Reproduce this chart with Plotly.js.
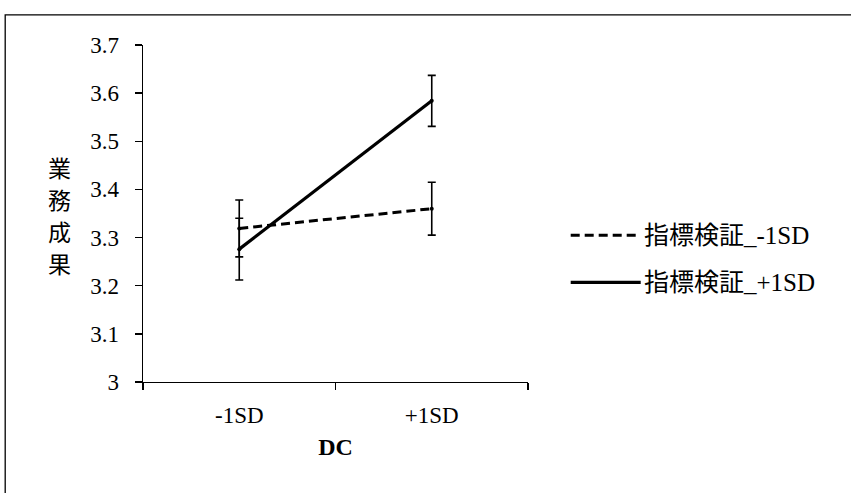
<!DOCTYPE html>
<html>
<head>
<meta charset="utf-8">
<script src="https://cdn.plot.ly/plotly-3.0.1.min.js"></script>
<style>html,body{margin:0;padding:0;background:#fff;}#chart{width:851px;height:493px;}</style>
</head>
<body>
<div id="chart"></div>
<script>
// Data
const categories = ["-1SD", "+1SD"];
const seriesNames = ["指標検証_-1SD", "指標検証_+1SD"];
const valuesLow = [3.319, 3.360];
const errorsLow = [0.059, 0.055];
const valuesHigh = [3.276, 3.584];
const errorsHigh = [0.064, 0.053];
const yTickVals = [3, 3.1, 3.2, 3.3, 3.4, 3.5, 3.6, 3.7];
const yTickText = ["3", "3.1", "3.2", "3.3", "3.4", "3.5", "3.6", "3.7"];
const yTitle = "業務成果";
const xTitle = "DC";

const W = 851, H = 493;
const plotL = 143.3, plotR = 528.3, plotT = 44.7, plotB = 381.7;
const px = x => (x - plotL) / (plotR - plotL);
const py = y => (plotB - y) / (plotB - plotT);

const serif = "Liberation Serif, 'Times New Roman', 'Noto Sans CJK JP', serif";

const traces = [
  {
    x: categories, y: valuesLow, name: seriesNames[0], type: "scatter", mode: "lines+markers",
    line: {color: "#000", width: 3, dash: "9px,5px"},
    marker: {size: 4, color: "#000"},
    error_y: {type: "data", array: errorsLow, visible: true, color: "#000", thickness: 1.6, width: 4},
    showlegend: false
  },
  {
    x: categories, y: valuesHigh, name: seriesNames[1], type: "scatter", mode: "lines+markers",
    line: {color: "#000", width: 3.2},
    marker: {size: 4, color: "#000"},
    error_y: {type: "data", array: errorsHigh, visible: true, color: "#000", thickness: 1.6, width: 4},
    showlegend: false
  }
];

const legendY = [235, 282];
const shapes = [
  {type: "rect", xref: "paper", yref: "paper", x0: px(5.5), x1: px(870), y0: py(14.5), y1: py(510),
   line: {color: "#000", width: 1.3}, fillcolor: "rgba(0,0,0,0)", layer: "below"},
  {type: "line", xref: "paper", yref: "paper", x0: px(571), x1: px(641), y0: py(legendY[0]), y1: py(legendY[0]),
   line: {color: "#000", width: 3, dash: "9px,5px"}},
  {type: "line", xref: "paper", yref: "paper", x0: px(571), x1: px(641), y0: py(legendY[1]), y1: py(legendY[1]),
   line: {color: "#000", width: 3.2}}
];

const annotations = [
  {xref: "paper", yref: "paper", x: px(642), y: py(legendY[0]), xanchor: "left", yanchor: "middle",
   text: seriesNames[0], showarrow: false, font: {family: serif, size: 25, color: "#000"}},
  {xref: "paper", yref: "paper", x: px(642), y: py(legendY[1]), xanchor: "left", yanchor: "middle",
   text: seriesNames[1], showarrow: false, font: {family: serif, size: 25, color: "#000"}}
];
// vertical y-axis title, one character per annotation
const yTitleChars = yTitle.split("");
yTitleChars.forEach((ch, i) => {
  annotations.push({xref: "paper", yref: "paper", x: px(60), y: py(167 + i * 32), xanchor: "center", yanchor: "middle",
    text: ch, showarrow: false, font: {family: "'Noto Sans CJK JP', sans-serif", size: 23, color: "#000"}});
});

const layout = {
  width: W, height: H,
  margin: {l: plotL, r: W - plotR, t: plotT, b: H - plotB, pad: 0},
  paper_bgcolor: "#fff", plot_bgcolor: "#fff",
  showlegend: false,
  xaxis: {
    type: "category", range: [-0.5, 1.5], tickson: "boundaries",
    showline: true, linecolor: "#000", linewidth: 1.3,
    ticks: "outside", ticklen: 7, tickcolor: "#000", tickwidth: 1.3,
    showgrid: false, zeroline: false,
    tickfont: {family: serif, size: 23, color: "#000"},
    ticklabelstandoff: 12,
    title: {text: "<b>" + xTitle + "</b>", font: {family: serif, size: 24, color: "#000"}, standoff: 11}
  },
  yaxis: {
    range: [3, 3.7], tickmode: "array", tickvals: yTickVals, ticktext: yTickText,
    showline: true, linecolor: "#000", linewidth: 1.3,
    ticks: "outside", ticklen: 7, tickcolor: "#000", tickwidth: 1.3,
    showgrid: false, zeroline: false,
    tickfont: {family: serif, size: 23, color: "#000"},
    ticklabelstandoff: 11
  },
  shapes: shapes,
  annotations: annotations
};

Plotly.newPlot("chart", traces, layout, {staticPlot: true, displayModeBar: false});
</script>
</body>
</html>
